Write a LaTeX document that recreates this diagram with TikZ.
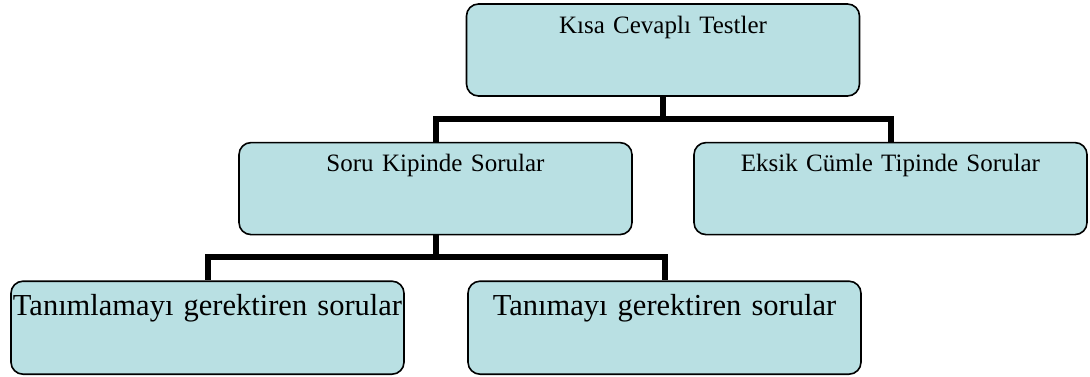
\documentclass[tikz,border=0pt]{standalone}
\usepackage{fontspec}
\setmainfont{Liberation Serif}
\usepackage{xcolor}
\usetikzlibrary{positioning}
\definecolor{boxfill}{RGB}{185,224,227}

\begin{document}
\begin{tikzpicture}[-,thick,node distance=45pt,
    box node/.style={rectangle,rounded corners=12pt,draw,line width=1.6pt,fill=boxfill,inner sep=0pt,text width=393pt,align=center,text height=29pt,text depth=63pt,font=\fontsize{25}{29}\selectfont},
    big node/.style={box node,font=\fontsize{30.5}{34}\selectfont,text height=34pt,text depth=59pt},
    link/.style={line width=6pt}]

            \useasboundingbox (0,0) rectangle (1090pt,-376pt);

            \node[box node] (1) at (663pt,-50pt) {Kısa Cevaplı Testler};
            \node[box node] (2) [below=of 1, xshift=-227.5pt] {Soru Kipinde Sorular};
            \node[box node] (3) [below=of 1, xshift=227.5pt] {Eksik Cümle Tipinde Sorular};
            \node[big node] (4) [below=of 2, xshift=-228pt] {Tanımlamayı gerektiren sorular};
            \node[big node] (5) [below=of 2, xshift=229pt] {Tanımayı gerektiren sorular};

            \draw[link] (1.south) -- ++(0,-22pt) coordinate (a);
            \draw[link] (a) -| (2.north);
            \draw[link] (a) -| (3.north);
            \draw[link] (2.south) -- ++(0,-22pt) coordinate (b);
            \draw[link] (b) -| (4.north);
            \draw[link] (b) -| (5.north);

            ;
        \end{tikzpicture}
\end{document}
